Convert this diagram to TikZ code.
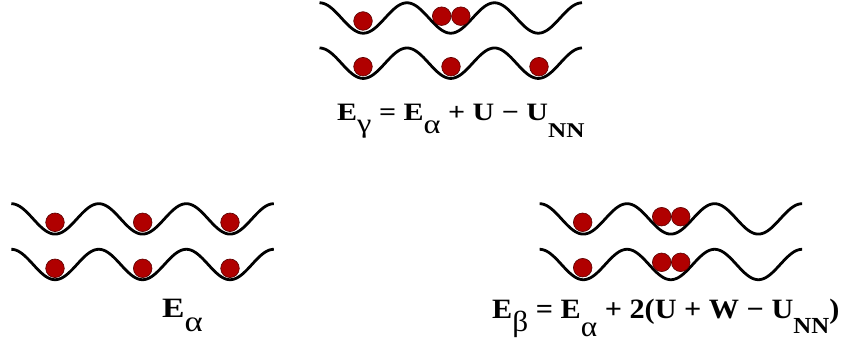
\documentclass[tikz,border=0pt]{standalone}
\usepackage{fontspec}
\setmainfont{Liberation Serif}
\newcommand\dn[3]{\raisebox{-#1pt}{\fontsize{#2}{#2}\selectfont #3}}
\begin{document}
\begin{tikzpicture}[x=1pt,y=-1pt,
  wave/.style={line width=2.8pt, black},
  ball/.style={circle, inner sep=0pt, minimum size=18.6pt, fill={rgb,255:red,176;green,0;blue,0}, draw={rgb,255:red,90;green,0;blue,0}, line width=0.6pt},
  formula/.style={inner sep=0pt, anchor=base west, font=\bfseries}]
\useasboundingbox (0,0) rectangle (849,347);
\newcommand\wave[2]{\draw[wave] plot[domain=0:1080, samples=160] ({#1+\x/360*87.5}, {#2+15.2-15.2*cos(\x)});}
% top group (gamma)
\wave{319.5}{2.8}
\wave{319.5}{48}
\node[ball] (g1) at (363,21) {};
\node[ball] (g2) at (441.7,16.2) {};
\node[ball] (g3) at (460.8,16.2) {};
\node[ball] (g4) at (363,66.7) {};
\node[ball] (g5) at (451,66.7) {};
\node[ball] (g6) at (539,66.7) {};
\node[formula] (fg) at (337,120.3) {\scalebox{1.2}[1]{\fontsize{25}{25}\selectfont E\dn{12}{27}{\mdseries γ} = E\dn{13}{27}{\mdseries α} + U − U\dn{17}{21}{NN}}};
% left group (alpha)
\wave{11.3}{203.7}
\wave{11.3}{249.3}
\node[ball] (a1) at (55,222.3) {};
\node[ball] (a2) at (142.7,222.3) {};
\node[ball] (a3) at (230,222.3) {};
\node[ball] (a4) at (55,268.3) {};
\node[ball] (a5) at (142.7,268.3) {};
\node[ball] (a6) at (230,268.3) {};
\node[formula] (fa) at (162,318) {\scalebox{1.2}[1]{\fontsize{28}{28}\selectfont E\dn{14}{29}{\mdseries α}}};
% right group (beta)
\wave{539.6}{203.7}
\wave{539.6}{249.3}
\node[ball] (b1) at (582.7,222.3) {};
\node[ball] (b2) at (661.7,216.7) {};
\node[ball] (b3) at (680.7,216.7) {};
\node[ball] (b4) at (582.7,267.7) {};
\node[ball] (b5) at (661.7,262.3) {};
\node[ball] (b6) at (680.7,262.3) {};
\node[formula] (fb) at (492,319) {\scalebox{1.08}[1]{\fontsize{28}{28}\selectfont E\dn{13}{29}{\mdseries β} = E\dn{18}{29}{\mdseries α} + 2(U + W − U\dn{15}{23}{NN})}};
\end{tikzpicture}
\end{document}
